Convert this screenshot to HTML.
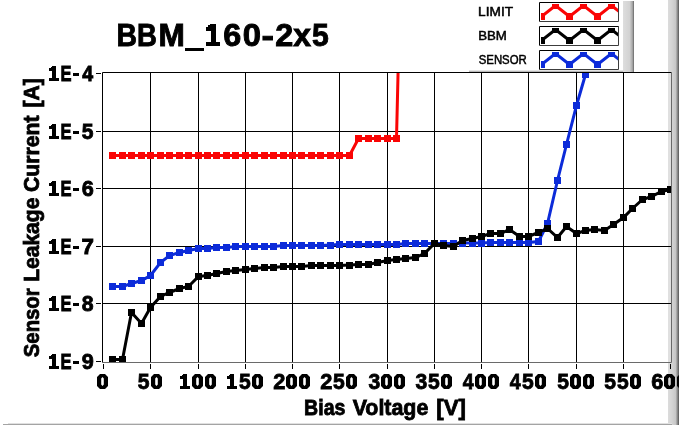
<!DOCTYPE html>
<html><head><meta charset="utf-8"><style>
html,body{margin:0;padding:0;background:#fff;}
svg{display:block;}
text{font-family:"Liberation Sans", sans-serif;}
svg{will-change:transform;}
</style></head><body>
<svg width="679" height="425" viewBox="0 0 679 425">
<defs>
<linearGradient id="gr" x1="0" x2="1" y1="0" y2="0">
<stop offset="0" stop-color="#dcdcdc"/><stop offset="0.36" stop-color="#d4d4d4"/><stop offset="0.68" stop-color="#c8c8c8"/><stop offset="0.82" stop-color="#9a9a9a"/><stop offset="1" stop-color="#555"/>
</linearGradient>
<linearGradient id="gl" x1="0" x2="1" y1="0" y2="0">
<stop offset="0" stop-color="#dedede"/><stop offset="0.6" stop-color="#d2d2d2"/><stop offset="0.85" stop-color="#a8a8a8"/><stop offset="1" stop-color="#666"/>
</linearGradient>
<clipPath id="plot"><rect x="103" y="73" width="568" height="289"/></clipPath>
</defs>
<rect width="679" height="425" fill="#fff"/>
<!-- right gray strip -->
<rect x="668" y="0" width="11" height="425" fill="url(#gr)"/>
<!-- legend right strip -->
<rect x="623" y="1" width="11" height="71" fill="url(#gl)"/>
<!-- legend bottom edge -->
<rect x="469" y="70" width="154" height="1" fill="#e4e4e4"/>
<rect x="469" y="71" width="154" height="1" fill="#b8b8b8"/>
<!-- bottom edge -->
<rect x="8" y="423" width="664" height="1" fill="#e0e0e0"/>
<rect x="3" y="424" width="669" height="1" fill="#a4a4a4"/>
<!-- plot area -->
<rect x="103" y="73" width="565" height="289" fill="#fff"/>
<rect x="668" y="73" width="3" height="289" fill="#e0e0e0"/>
<path d="M150.5 73V362 M198.5 73V362 M245.5 73V362 M292.5 73V362 M339.5 73V362 M387.5 73V362 M434.5 73V362 M481.5 73V362 M528.5 73V362 M576.5 73V362 M623.5 73V362 M103 131.5H671 M103 188.5H671 M103 246.5H671 M103 303.5H671" stroke="#000" stroke-width="1" fill="none"/>
<path d="M96 73.5H101 M96 131.5H101 M96 188.5H101 M96 246.5H101 M96 303.5H101 M96 361.5H101 M103.5 364V369 M150.5 364V369 M198.5 364V369 M245.5 364V369 M292.5 364V369 M339.5 364V369 M387.5 364V369 M434.5 364V369 M481.5 364V369 M528.5 364V369 M576.5 364V369 M623.5 364V369 M670.5 364V369" stroke="#000" stroke-width="1" fill="none"/>
<path d="M102.5 362V72.5H672" stroke="#000" fill="none"/>
<path d="M102 362.5H671.5V72" stroke="#6a6a6a" fill="none"/>
<g clip-path="url(#plot)">
<polyline points="112.5,286.5 122.5,286.5 131.5,283.5 141.5,280.5 150.5,275.5 160.5,262.5 169.5,255.5 179.5,252.5 188.5,250.5 198.5,248.5 207.5,248.5 216.5,247.5 226.5,247.5 235.5,246.5 245.5,246.5 254.5,246.5 264.5,246.5 273.5,246.5 283.5,245.5 292.5,245.5 301.5,245.5 311.5,245.5 320.5,245.5 330.5,245.0 339.5,244.5 349.5,244.5 358.5,244.5 368.5,244.5 377.5,244.5 387.5,244.5 396.5,244.5 405.5,243.5 415.5,243.5 424.5,243.5 434.5,243.5 443.5,243.5 453.5,243.5 462.5,243.0 472.5,243.0 481.5,243.0 490.5,242.5 500.5,242.5 509.5,242.5 519.5,242.5 528.5,242.5 538.5,241.5 547.5,223.5 557.5,180.5 566.5,144.5 576.5,105.5 585.5,74.5 594.5,40.0" fill="none" stroke="#0c2bd9" stroke-width="3" stroke-linejoin="miter" stroke-miterlimit="2"/>
<g fill="#0c2bd9"><rect x="109.0" y="283" width="7" height="7"/><rect x="119.0" y="283" width="7" height="7"/><rect x="128.0" y="280" width="7" height="7"/><rect x="138.0" y="277" width="7" height="7"/><rect x="147.0" y="272" width="7" height="7"/><rect x="157.0" y="259" width="7" height="7"/><rect x="166.0" y="252" width="7" height="7"/><rect x="176.0" y="249" width="7" height="7"/><rect x="185.0" y="247" width="7" height="7"/><rect x="195.0" y="245" width="7" height="7"/><rect x="204.0" y="245" width="7" height="7"/><rect x="213.0" y="244" width="7" height="7"/><rect x="223.0" y="244" width="7" height="7"/><rect x="232.0" y="243" width="7" height="7"/><rect x="242.0" y="243" width="7" height="7"/><rect x="251.0" y="243" width="7" height="7"/><rect x="261.0" y="243" width="7" height="7"/><rect x="270.0" y="243" width="7" height="7"/><rect x="280.0" y="242" width="7" height="7"/><rect x="289.0" y="242" width="7" height="7"/><rect x="298.0" y="242" width="7" height="7"/><rect x="308.0" y="242" width="7" height="7"/><rect x="317.0" y="242" width="7" height="7"/><rect x="327.0" y="242" width="7" height="7"/><rect x="336.0" y="241" width="7" height="7"/><rect x="346.0" y="241" width="7" height="7"/><rect x="355.0" y="241" width="7" height="7"/><rect x="365.0" y="241" width="7" height="7"/><rect x="374.0" y="241" width="7" height="7"/><rect x="384.0" y="241" width="7" height="7"/><rect x="393.0" y="241" width="7" height="7"/><rect x="402.0" y="240" width="7" height="7"/><rect x="412.0" y="240" width="7" height="7"/><rect x="421.0" y="240" width="7" height="7"/><rect x="431.0" y="240" width="7" height="7"/><rect x="440.0" y="240" width="7" height="7"/><rect x="450.0" y="240" width="7" height="7"/><rect x="459.0" y="240" width="7" height="7"/><rect x="469.0" y="240" width="7" height="7"/><rect x="478.0" y="240" width="7" height="7"/><rect x="487.0" y="239" width="7" height="7"/><rect x="497.0" y="239" width="7" height="7"/><rect x="506.0" y="239" width="7" height="7"/><rect x="516.0" y="239" width="7" height="7"/><rect x="525.0" y="239" width="7" height="7"/><rect x="535.0" y="238" width="7" height="7"/><rect x="544.0" y="220" width="7" height="7"/><rect x="554.0" y="177" width="7" height="7"/><rect x="563.0" y="141" width="7" height="7"/><rect x="573.0" y="102" width="7" height="7"/><rect x="582.0" y="71" width="7" height="7"/><rect x="591.0" y="37" width="7" height="7"/></g>

<polyline points="112.5,359.5 122.5,359.5 131.5,312.5 141.5,323.5 150.5,307.5 160.5,296.5 169.5,292.5 179.5,288.5 188.5,286.5 198.5,276.5 207.5,275.5 216.5,273.5 226.5,271.5 235.5,270.5 245.5,269.5 254.5,268.5 264.5,267.5 273.5,267.5 283.5,266.5 292.5,266.5 301.5,266.5 311.5,265.5 320.5,265.5 330.5,265.5 339.5,265.5 349.5,265.0 358.5,264.5 368.5,264.5 377.5,262.5 387.5,260.5 396.5,259.5 405.5,258.5 415.5,257.5 424.5,253.5 434.5,243.5 443.5,245.5 453.5,246.5 462.5,240.5 472.5,238.5 481.5,236.5 490.5,233.5 500.5,233.5 509.5,229.5 519.5,236.5 528.5,236.5 538.5,232.5 547.5,228.5 557.5,237.5 566.5,226.5 576.5,233.5 585.5,230.5 594.5,229.5 604.5,230.5 613.5,224.5 623.5,217.5 632.5,208.5 642.5,199.5 651.5,196.5 661.5,191.5 670.5,189.5" fill="none" stroke="#000000" stroke-width="3" stroke-linejoin="miter" stroke-miterlimit="2"/>
<g fill="#000000"><rect x="109.0" y="356" width="7" height="7"/><rect x="119.0" y="356" width="7" height="7"/><rect x="128.0" y="309" width="7" height="7"/><rect x="138.0" y="320" width="7" height="7"/><rect x="147.0" y="304" width="7" height="7"/><rect x="157.0" y="293" width="7" height="7"/><rect x="166.0" y="289" width="7" height="7"/><rect x="176.0" y="285" width="7" height="7"/><rect x="185.0" y="283" width="7" height="7"/><rect x="195.0" y="273" width="7" height="7"/><rect x="204.0" y="272" width="7" height="7"/><rect x="213.0" y="270" width="7" height="7"/><rect x="223.0" y="268" width="7" height="7"/><rect x="232.0" y="267" width="7" height="7"/><rect x="242.0" y="266" width="7" height="7"/><rect x="251.0" y="265" width="7" height="7"/><rect x="261.0" y="264" width="7" height="7"/><rect x="270.0" y="264" width="7" height="7"/><rect x="280.0" y="263" width="7" height="7"/><rect x="289.0" y="263" width="7" height="7"/><rect x="298.0" y="263" width="7" height="7"/><rect x="308.0" y="262" width="7" height="7"/><rect x="317.0" y="262" width="7" height="7"/><rect x="327.0" y="262" width="7" height="7"/><rect x="336.0" y="262" width="7" height="7"/><rect x="346.0" y="262" width="7" height="7"/><rect x="355.0" y="261" width="7" height="7"/><rect x="365.0" y="261" width="7" height="7"/><rect x="374.0" y="259" width="7" height="7"/><rect x="384.0" y="257" width="7" height="7"/><rect x="393.0" y="256" width="7" height="7"/><rect x="402.0" y="255" width="7" height="7"/><rect x="412.0" y="254" width="7" height="7"/><rect x="421.0" y="250" width="7" height="7"/><rect x="431.0" y="240" width="7" height="7"/><rect x="440.0" y="242" width="7" height="7"/><rect x="450.0" y="243" width="7" height="7"/><rect x="459.0" y="237" width="7" height="7"/><rect x="469.0" y="235" width="7" height="7"/><rect x="478.0" y="233" width="7" height="7"/><rect x="487.0" y="230" width="7" height="7"/><rect x="497.0" y="230" width="7" height="7"/><rect x="506.0" y="226" width="7" height="7"/><rect x="516.0" y="233" width="7" height="7"/><rect x="525.0" y="233" width="7" height="7"/><rect x="535.0" y="229" width="7" height="7"/><rect x="544.0" y="225" width="7" height="7"/><rect x="554.0" y="234" width="7" height="7"/><rect x="563.0" y="223" width="7" height="7"/><rect x="573.0" y="230" width="7" height="7"/><rect x="582.0" y="227" width="7" height="7"/><rect x="591.0" y="226" width="7" height="7"/><rect x="601.0" y="227" width="7" height="7"/><rect x="610.0" y="221" width="7" height="7"/><rect x="620.0" y="214" width="7" height="7"/><rect x="629.0" y="205" width="7" height="7"/><rect x="639.0" y="196" width="7" height="7"/><rect x="648.0" y="193" width="7" height="7"/><rect x="658.0" y="188" width="7" height="7"/><rect x="667.0" y="186" width="7" height="7"/></g>

<polyline points="112.5,155.5 122.5,155.5 131.5,155.5 141.5,155.5 150.5,155.5 160.5,155.5 169.5,155.5 179.5,155.5 188.5,155.5 198.5,155.5 207.5,155.5 216.5,155.5 226.5,155.5 235.5,155.5 245.5,155.5 254.5,155.5 264.5,155.5 273.5,155.5 283.5,155.5 292.5,155.5 301.5,155.5 311.5,155.5 320.5,155.5 330.5,155.5 339.5,155.5 349.5,155.5 358.5,138.5 368.5,138.5 377.5,138.5 387.5,138.5 396.5,138.5 405.5,-240.0" fill="none" stroke="#fa0505" stroke-width="3" stroke-linejoin="miter" stroke-miterlimit="2"/>
<g fill="#fa0505"><rect x="109.0" y="152" width="7" height="7"/><rect x="119.0" y="152" width="7" height="7"/><rect x="128.0" y="152" width="7" height="7"/><rect x="138.0" y="152" width="7" height="7"/><rect x="147.0" y="152" width="7" height="7"/><rect x="157.0" y="152" width="7" height="7"/><rect x="166.0" y="152" width="7" height="7"/><rect x="176.0" y="152" width="7" height="7"/><rect x="185.0" y="152" width="7" height="7"/><rect x="195.0" y="152" width="7" height="7"/><rect x="204.0" y="152" width="7" height="7"/><rect x="213.0" y="152" width="7" height="7"/><rect x="223.0" y="152" width="7" height="7"/><rect x="232.0" y="152" width="7" height="7"/><rect x="242.0" y="152" width="7" height="7"/><rect x="251.0" y="152" width="7" height="7"/><rect x="261.0" y="152" width="7" height="7"/><rect x="270.0" y="152" width="7" height="7"/><rect x="280.0" y="152" width="7" height="7"/><rect x="289.0" y="152" width="7" height="7"/><rect x="298.0" y="152" width="7" height="7"/><rect x="308.0" y="152" width="7" height="7"/><rect x="317.0" y="152" width="7" height="7"/><rect x="327.0" y="152" width="7" height="7"/><rect x="336.0" y="152" width="7" height="7"/><rect x="346.0" y="152" width="7" height="7"/><rect x="355.0" y="135" width="7" height="7"/><rect x="365.0" y="135" width="7" height="7"/><rect x="374.0" y="135" width="7" height="7"/><rect x="384.0" y="135" width="7" height="7"/><rect x="393.0" y="135" width="7" height="7"/></g>

</g>
<!-- title -->
<text x="116.55" y="46" font-size="31" font-weight="bold" stroke="#000" stroke-width="0.9" textLength="20.49" lengthAdjust="spacingAndGlyphs">B</text><text x="137.11" y="46" font-size="31" font-weight="bold" stroke="#000" stroke-width="0.9" textLength="19.89" lengthAdjust="spacingAndGlyphs">B</text><text x="158.64" y="46" font-size="31" font-weight="bold" stroke="#000" stroke-width="0.9" textLength="26.33" lengthAdjust="spacingAndGlyphs">M</text><rect x="185" y="48" width="19" height="3"/><path d="M206 27H208V25H210V24H216V42H220V46H206V42H211V31H206Z"/><text x="223.37" y="46" font-size="31" font-weight="bold" stroke="#000" stroke-width="0.9" textLength="17.95" lengthAdjust="spacingAndGlyphs">6</text><text x="242.75" y="46" font-size="31" font-weight="bold" stroke="#000" stroke-width="0.9" textLength="18.24" lengthAdjust="spacingAndGlyphs">0</text><text x="261.59" y="46" font-size="31" font-weight="bold" stroke="#000" stroke-width="0.9" textLength="12.46" lengthAdjust="spacingAndGlyphs">-</text><text x="275.23" y="46" font-size="31" font-weight="bold" stroke="#000" stroke-width="0.9" textLength="18.02" lengthAdjust="spacingAndGlyphs">2</text><text x="293.23" y="46" font-size="31" font-weight="bold" stroke="#000" stroke-width="0.9" textLength="17.75" lengthAdjust="spacingAndGlyphs">x</text><text x="311.92" y="46" font-size="31" font-weight="bold" stroke="#000" stroke-width="0.9" textLength="16.77" lengthAdjust="spacingAndGlyphs">5</text>
<!-- legend -->
<text x="478.13" y="16" font-size="12.5" stroke="#000" stroke-width="0.5" textLength="34.94" lengthAdjust="spacingAndGlyphs">LIMIT</text>
<text x="478.16" y="40" font-size="12.5" stroke="#000" stroke-width="0.5" textLength="28.67" lengthAdjust="spacingAndGlyphs">BBM</text>
<text x="478.73" y="64" font-size="12.5" stroke="#000" stroke-width="0.5" textLength="48.04" lengthAdjust="spacingAndGlyphs">SENSOR</text>
<rect x="539.5" y="2.5" width="79" height="19" fill="#fff" stroke="none"/><path d="M539.5 21.5V2.5H618.5" stroke="#000" fill="none"/><path d="M539.5 21.5H618.5V2" stroke="#3c3c3c" fill="none"/><clipPath id="c2"><rect x="541" y="4" width="77" height="16"/></clipPath><g clip-path="url(#c2)"><polyline points="527.5,5.5 541.5,16.5 555.5,5.5 569.5,16.5 583.5,5.5 597.5,16.5 611.5,5.5 625.5,16.5" fill="none" stroke="#fa0505" stroke-width="3"/><g fill="#fa0505"><rect x="524.0" y="2.0" width="7" height="7"/><rect x="538.0" y="13.0" width="7" height="7"/><rect x="552.0" y="2.0" width="7" height="7"/><rect x="566.0" y="13.0" width="7" height="7"/><rect x="580.0" y="2.0" width="7" height="7"/><rect x="594.0" y="13.0" width="7" height="7"/><rect x="608.0" y="2.0" width="7" height="7"/><rect x="622.0" y="13.0" width="7" height="7"/></g></g>
<rect x="539.5" y="26.5" width="79" height="19" fill="#fff" stroke="none"/><path d="M539.5 45.5V26.5H618.5" stroke="#000" fill="none"/><path d="M539.5 45.5H618.5V26" stroke="#3c3c3c" fill="none"/><clipPath id="c26"><rect x="541" y="28" width="77" height="16"/></clipPath><g clip-path="url(#c26)"><polyline points="527.5,29.5 541.5,40.5 555.5,29.5 569.5,40.5 583.5,29.5 597.5,40.5 611.5,29.5 625.5,40.5" fill="none" stroke="#000000" stroke-width="3"/><g fill="#000000"><rect x="524.0" y="26.0" width="7" height="7"/><rect x="538.0" y="37.0" width="7" height="7"/><rect x="552.0" y="26.0" width="7" height="7"/><rect x="566.0" y="37.0" width="7" height="7"/><rect x="580.0" y="26.0" width="7" height="7"/><rect x="594.0" y="37.0" width="7" height="7"/><rect x="608.0" y="26.0" width="7" height="7"/><rect x="622.0" y="37.0" width="7" height="7"/></g></g>
<rect x="539.5" y="50.5" width="79" height="19" fill="#fff" stroke="none"/><path d="M539.5 69.5V50.5H618.5" stroke="#000" fill="none"/><path d="M539.5 69.5H618.5V50" stroke="#3c3c3c" fill="none"/><clipPath id="c50"><rect x="541" y="52" width="77" height="16"/></clipPath><g clip-path="url(#c50)"><polyline points="527.5,53.5 541.5,64.5 555.5,53.5 569.5,64.5 583.5,53.5 597.5,64.5 611.5,53.5 625.5,64.5" fill="none" stroke="#0c2bd9" stroke-width="3"/><g fill="#0c2bd9"><rect x="524.0" y="50.0" width="7" height="7"/><rect x="538.0" y="61.0" width="7" height="7"/><rect x="552.0" y="50.0" width="7" height="7"/><rect x="566.0" y="61.0" width="7" height="7"/><rect x="580.0" y="50.0" width="7" height="7"/><rect x="594.0" y="61.0" width="7" height="7"/><rect x="608.0" y="50.0" width="7" height="7"/><rect x="622.0" y="61.0" width="7" height="7"/></g></g>
<path fill-rule="evenodd" d="M100 374H105L108 377V386L105 389H100L97 386V377Z M101.2 378.5L102.5 377L103.8 378.5V384.5L102.5 386L101.2 384.5Z"/><text x="137.70" y="389" font-size="21.5" font-weight="bold" stroke="#000" stroke-width="0.8" textLength="11.74" lengthAdjust="spacingAndGlyphs">5</text><path fill-rule="evenodd" d="M154 374H159L162 377V386L159 389H154L151 386V377Z M155.2 378.5L156.5 377L157.8 378.5V384.5L156.5 386L155.2 384.5Z"/><path d="M180 376H182V375H183V374H187V386H190V389H180V386H183V379H180Z"/><path fill-rule="evenodd" d="M195 374H200L203 377V386L200 389H195L192 386V377Z M196.2 378.5L197.5 377L198.8 378.5V384.5L197.5 386L196.2 384.5Z"/><path fill-rule="evenodd" d="M208 374H213L216 377V386L213 389H208L205 386V377Z M209.2 378.5L210.5 377L211.8 378.5V384.5L210.5 386L209.2 384.5Z"/><path d="M227 376H229V375H230V374H234V386H237V389H227V386H230V379H227Z"/><text x="239.10" y="389" font-size="21.5" font-weight="bold" stroke="#000" stroke-width="0.8" textLength="11.74" lengthAdjust="spacingAndGlyphs">5</text><path fill-rule="evenodd" d="M255 374H260L263 377V386L260 389H255L252 386V377Z M256.2 378.5L257.5 377L258.8 378.5V384.5L257.5 386L256.2 384.5Z"/><text x="273.19" y="389" font-size="21.5" font-weight="bold" stroke="#000" stroke-width="0.8" textLength="12.13" lengthAdjust="spacingAndGlyphs">2</text><path fill-rule="evenodd" d="M289 374H294L297 377V386L294 389H289L286 386V377Z M290.2 378.5L291.5 377L292.8 378.5V384.5L291.5 386L290.2 384.5Z"/><path fill-rule="evenodd" d="M302 374H307L310 377V386L307 389H302L299 386V377Z M303.2 378.5L304.5 377L305.8 378.5V384.5L304.5 386L303.2 384.5Z"/><text x="320.19" y="389" font-size="21.5" font-weight="bold" stroke="#000" stroke-width="0.8" textLength="12.13" lengthAdjust="spacingAndGlyphs">2</text><text x="333.10" y="389" font-size="21.5" font-weight="bold" stroke="#000" stroke-width="0.8" textLength="11.74" lengthAdjust="spacingAndGlyphs">5</text><path fill-rule="evenodd" d="M349 374H354L357 377V386L354 389H349L346 386V377Z M350.2 378.5L351.5 377L352.8 378.5V384.5L351.5 386L350.2 384.5Z"/><text x="368.47" y="389" font-size="21.5" font-weight="bold" stroke="#000" stroke-width="0.8" textLength="11.75" lengthAdjust="spacingAndGlyphs">3</text><path fill-rule="evenodd" d="M384 374H389L392 377V386L389 389H384L381 386V377Z M385.2 378.5L386.5 377L387.8 378.5V384.5L386.5 386L385.2 384.5Z"/><path fill-rule="evenodd" d="M397 374H402L405 377V386L402 389H397L394 386V377Z M398.2 378.5L399.5 377L400.8 378.5V384.5L399.5 386L398.2 384.5Z"/><text x="415.47" y="389" font-size="21.5" font-weight="bold" stroke="#000" stroke-width="0.8" textLength="11.75" lengthAdjust="spacingAndGlyphs">3</text><text x="428.10" y="389" font-size="21.5" font-weight="bold" stroke="#000" stroke-width="0.8" textLength="11.74" lengthAdjust="spacingAndGlyphs">5</text><path fill-rule="evenodd" d="M444 374H449L452 377V386L449 389H444L441 386V377Z M445.2 378.5L446.5 377L447.8 378.5V384.5L446.5 386L445.2 384.5Z"/><text x="462.65" y="389" font-size="21.5" font-weight="bold" stroke="#000" stroke-width="0.8" textLength="10.90" lengthAdjust="spacingAndGlyphs">4</text><path fill-rule="evenodd" d="M478 374H483L486 377V386L483 389H478L475 386V377Z M479.2 378.5L480.5 377L481.8 378.5V384.5L480.5 386L479.2 384.5Z"/><path fill-rule="evenodd" d="M491 374H496L499 377V386L496 389H491L488 386V377Z M492.2 378.5L493.5 377L494.8 378.5V384.5L493.5 386L492.2 384.5Z"/><text x="509.65" y="389" font-size="21.5" font-weight="bold" stroke="#000" stroke-width="0.8" textLength="10.90" lengthAdjust="spacingAndGlyphs">4</text><text x="522.10" y="389" font-size="21.5" font-weight="bold" stroke="#000" stroke-width="0.8" textLength="11.74" lengthAdjust="spacingAndGlyphs">5</text><path fill-rule="evenodd" d="M538 374H543L546 377V386L543 389H538L535 386V377Z M539.2 378.5L540.5 377L541.8 378.5V384.5L540.5 386L539.2 384.5Z"/><text x="557.30" y="389" font-size="21.5" font-weight="bold" stroke="#000" stroke-width="0.8" textLength="11.74" lengthAdjust="spacingAndGlyphs">5</text><path fill-rule="evenodd" d="M573 374H578L581 377V386L578 389H573L570 386V377Z M574.2 378.5L575.5 377L576.8 378.5V384.5L575.5 386L574.2 384.5Z"/><path fill-rule="evenodd" d="M586 374H591L594 377V386L591 389H586L583 386V377Z M587.2 378.5L588.5 377L589.8 378.5V384.5L588.5 386L587.2 384.5Z"/><text x="604.30" y="389" font-size="21.5" font-weight="bold" stroke="#000" stroke-width="0.8" textLength="11.74" lengthAdjust="spacingAndGlyphs">5</text><text x="617.10" y="389" font-size="21.5" font-weight="bold" stroke="#000" stroke-width="0.8" textLength="11.74" lengthAdjust="spacingAndGlyphs">5</text><path fill-rule="evenodd" d="M633 374H638L641 377V386L638 389H633L630 386V377Z M634.2 378.5L635.5 377L636.8 378.5V384.5L635.5 386L634.2 384.5Z"/><text x="651.15" y="389" font-size="21.5" font-weight="bold" stroke="#000" stroke-width="0.8" textLength="12.08" lengthAdjust="spacingAndGlyphs">6</text><path fill-rule="evenodd" d="M667 374H672L675 377V386L672 389H667L664 386V377Z M668.2 378.5L669.5 377L670.8 378.5V384.5L669.5 386L668.2 384.5Z"/><path fill-rule="evenodd" d="M680 374H685L688 377V386L685 389H680L677 386V377Z M681.2 378.5L682.5 377L683.8 378.5V384.5L682.5 386L681.2 384.5Z"/>
<path d="M49 68H51V67H52V66H56V78H59V81H49V78H52V71H49Z"/><text x="60.39" y="81" font-size="21.5" font-weight="bold" stroke="#000" stroke-width="0.8" textLength="11.06" lengthAdjust="spacingAndGlyphs">E</text><rect x="73" y="73" width="6" height="3"/><text x="82.20" y="81" font-size="21.5" font-weight="bold" stroke="#000" stroke-width="0.8" textLength="10.90" lengthAdjust="spacingAndGlyphs">4</text><path d="M49 126H51V125H52V124H56V136H59V139H49V136H52V129H49Z"/><text x="60.39" y="139" font-size="21.5" font-weight="bold" stroke="#000" stroke-width="0.8" textLength="11.06" lengthAdjust="spacingAndGlyphs">E</text><rect x="73" y="131" width="6" height="3"/><text x="81.85" y="139" font-size="21.5" font-weight="bold" stroke="#000" stroke-width="0.8" textLength="11.74" lengthAdjust="spacingAndGlyphs">5</text><path d="M49 183H51V182H52V181H56V193H59V196H49V193H52V186H49Z"/><text x="60.39" y="196" font-size="21.5" font-weight="bold" stroke="#000" stroke-width="0.8" textLength="11.06" lengthAdjust="spacingAndGlyphs">E</text><rect x="73" y="188" width="6" height="3"/><text x="81.70" y="196" font-size="21.5" font-weight="bold" stroke="#000" stroke-width="0.8" textLength="12.08" lengthAdjust="spacingAndGlyphs">6</text><path d="M49 241H51V240H52V239H56V251H59V254H49V251H52V244H49Z"/><text x="60.39" y="254" font-size="21.5" font-weight="bold" stroke="#000" stroke-width="0.8" textLength="11.06" lengthAdjust="spacingAndGlyphs">E</text><rect x="73" y="246" width="6" height="3"/><text x="81.54" y="254" font-size="21.5" font-weight="bold" stroke="#000" stroke-width="0.8" textLength="12.44" lengthAdjust="spacingAndGlyphs">7</text><path d="M49 298H51V297H52V296H56V308H59V311H49V308H52V301H49Z"/><text x="60.39" y="311" font-size="21.5" font-weight="bold" stroke="#000" stroke-width="0.8" textLength="11.06" lengthAdjust="spacingAndGlyphs">E</text><rect x="73" y="303" width="6" height="3"/><text x="81.82" y="311" font-size="21.5" font-weight="bold" stroke="#000" stroke-width="0.8" textLength="11.83" lengthAdjust="spacingAndGlyphs">8</text><path d="M49 356H51V355H52V354H56V366H59V369H49V366H52V359H49Z"/><text x="60.39" y="369" font-size="21.5" font-weight="bold" stroke="#000" stroke-width="0.8" textLength="11.06" lengthAdjust="spacingAndGlyphs">E</text><rect x="73" y="361" width="6" height="3"/><text x="81.75" y="369" font-size="21.5" font-weight="bold" stroke="#000" stroke-width="0.8" textLength="12.06" lengthAdjust="spacingAndGlyphs">9</text>
<text x="304.09" y="415" font-size="21.5" font-weight="bold" stroke="#000" stroke-width="0.8" textLength="41.31" lengthAdjust="spacingAndGlyphs">Bias</text>
<text x="352.66" y="415" font-size="21.5" font-weight="bold" stroke="#000" stroke-width="0.8" textLength="75.66" lengthAdjust="spacingAndGlyphs">Voltage</text>
<text x="436.25" y="415" font-size="21.5" font-weight="bold" stroke="#000" stroke-width="0.8" textLength="29.59" lengthAdjust="spacingAndGlyphs">[V]</text>
<g transform="translate(39 0) rotate(-90)">
<text x="-357.18" y="0" font-size="21.5" font-weight="bold" stroke="#000" stroke-width="0.8" textLength="68.79" lengthAdjust="spacingAndGlyphs">Sensor</text>
<text x="-281.81" y="0" font-size="21.5" font-weight="bold" stroke="#000" stroke-width="0.8" textLength="84.12" lengthAdjust="spacingAndGlyphs">Leakage</text>
<text x="-191.97" y="0" font-size="21.5" font-weight="bold" stroke="#000" stroke-width="0.8" textLength="76.63" lengthAdjust="spacingAndGlyphs">Current</text>
<text x="-107.48" y="0" font-size="21.5" font-weight="bold" stroke="#000" stroke-width="0.8" textLength="29.27" lengthAdjust="spacingAndGlyphs">[A]</text>
</g>
</svg>
</body></html>
